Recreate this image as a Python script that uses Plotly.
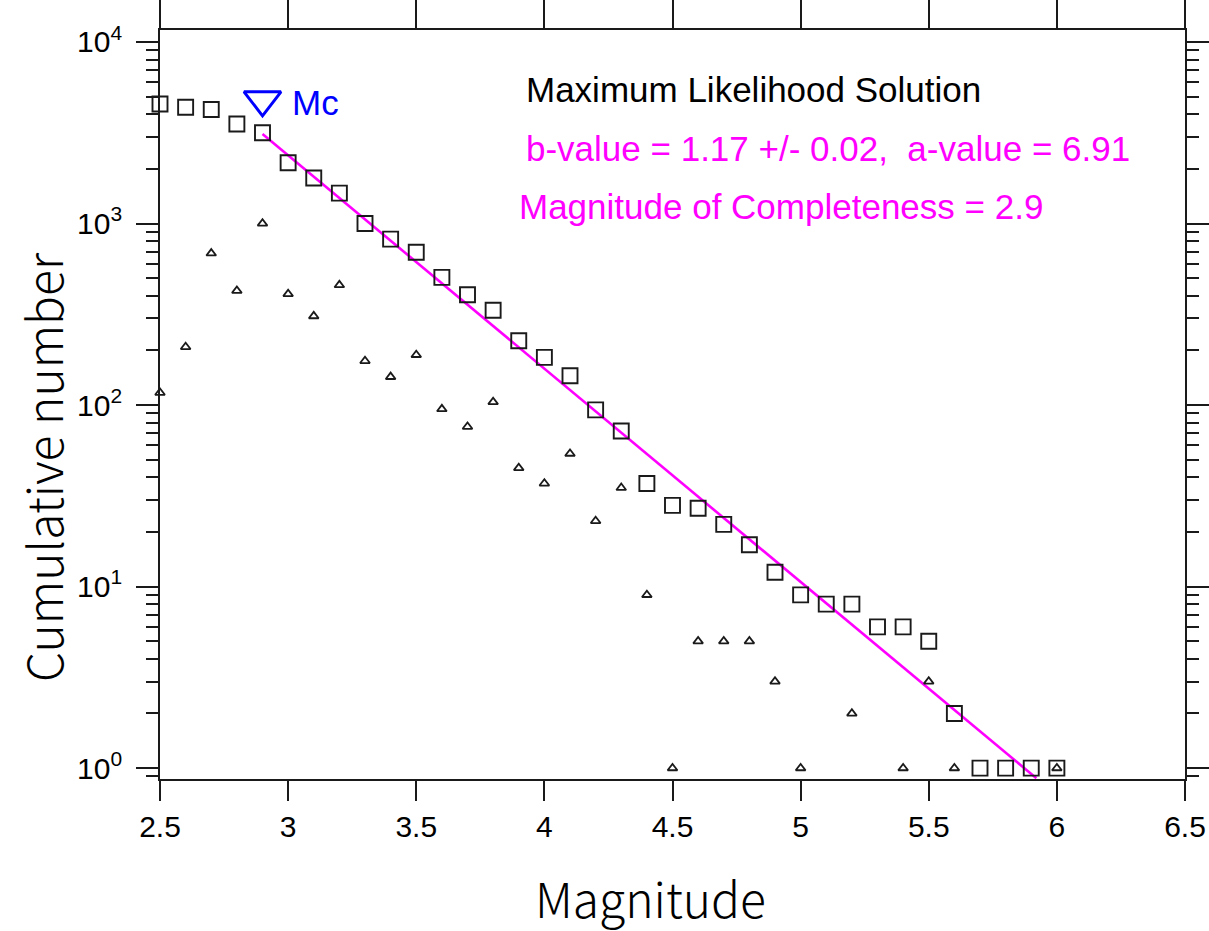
import plotly.graph_objects as go

# ---- data ----
magnitudes = [2.5, 2.6, 2.7, 2.8, 2.9, 3.0, 3.1, 3.2, 3.3, 3.4, 3.5, 3.6, 3.7, 3.8,
              3.9, 4.0, 4.1, 4.2, 4.3, 4.4, 4.5, 4.6, 4.7, 4.8, 4.9, 5.0, 5.1, 5.2,
              5.3, 5.4, 5.5, 5.6, 5.7, 5.8, 5.9, 6.0]
cumulative = [4550, 4370, 4250, 3530, 3160, 2160, 1780, 1470, 1000, 820, 695, 505, 405, 333,
              226, 183, 145, 94, 72, 37, 28, 27, 22, 17, 12, 9, 8, 8,
              6, 6, 5, 2, 1, 1, 1, 1]
noncumulative = [117, 209, 685, 426, 1000, 409, 309, 458, 175, 143, 189, 95, 76, 104,
                 45, 37, 54, 23, 35, 9, 1, 5, 5, 5, 3, 1, None, 2,
                 None, 1, 3, 1, None, None, None, 1]
fit_x = [2.9, 5.92]
fit_y = [3110, 0.88]
mc_x = [2.9]
mc_y = [4800]

x_ticks = [2.5, 3, 3.5, 4, 4.5, 5, 5.5, 6, 6.5]
x_ticktext = ["2.5", "3", "3.5", "4", "4.5", "5", "5.5", "6", "6.5"]
y_ticks = [1, 10, 100, 1000, 10000]
y_ticktext = ["10<sup>0</sup>", "10<sup>1</sup>", "10<sup>2</sup>", "10<sup>3</sup>", "10<sup>4</sup>"]
y_minor = [m * 10 ** e for e in range(-1, 4) for m in range(2, 10)] + [0.9]

title_lines = ["Maximum Likelihood Solution",
               "b-value = 1.17 +/- 0.02,\u00a0\u00a0a-value = 6.91",
               "Magnitude of Completeness = 2.9"]

AX = "#1a1a1a"
TXT_FONT = "Liberation Sans, Arial, sans-serif"
TITLE_FONT = "Noto Sans CJK JP, Noto Sans, sans-serif"

fig = go.Figure()

fig.add_trace(go.Scatter(x=fit_x, y=fit_y, mode="lines",
                         line=dict(color="#ff00ff", width=2.6), cliponaxis=False))
fig.add_trace(go.Scatter(x=magnitudes, y=cumulative, mode="markers",
                         marker=dict(symbol="square-open", size=15, color="#1a1a1a",
                                     line=dict(width=1.9, color="#1a1a1a")),
                         cliponaxis=False))
fig.add_trace(go.Scatter(x=magnitudes, y=noncumulative, mode="markers",
                         marker=dict(symbol="triangle-up-open", size=8.5, color="#1a1a1a",
                                     line=dict(width=1.8, color="#1a1a1a")),
                         cliponaxis=False))
fig.add_trace(go.Scatter(x=mc_x, y=mc_y, mode="markers",
                         marker=dict(symbol="triangle-down-open", size=32, color="#0000ff",
                                     line=dict(width=3, color="#0000ff")),
                         cliponaxis=False))
# invisible trace to realise the top axis
fig.add_trace(go.Scatter(x=[4.5], y=[10], xaxis="x2", mode="markers",
                         marker=dict(opacity=0), hoverinfo="skip"))

fig.update_layout(
    width=1209, height=931,
    margin=dict(l=160, r=24, t=30, b=152, autoexpand=False),
    plot_bgcolor="white", paper_bgcolor="white",
    showlegend=False,
    xaxis=dict(range=[2.5, 6.5], tickmode="array", tickvals=x_ticks, ticktext=x_ticktext,
               ticks="outside", ticklen=20, tickwidth=1.5, tickcolor=AX,
               showline=True, linecolor=AX, linewidth=1.8, mirror=False,
               showgrid=False, zeroline=False, automargin=False,
               tickfont=dict(family=TXT_FONT, size=30, color="black")),
    xaxis2=dict(range=[2.5, 6.5], overlaying="x", side="top", tickmode="array",
                tickvals=x_ticks, ticks="outside", ticklen=30, tickwidth=1.5, tickcolor=AX,
                showticklabels=False, showline=True, linecolor=AX, linewidth=1.8,
                showgrid=False, zeroline=False, automargin=False),
    yaxis=dict(type="log", range=[-0.06, 4.066], tickmode="array", tickvals=y_ticks,
               ticktext=y_ticktext, ticks="outside", ticklen=22, tickwidth=1.5, tickcolor=AX,
               showline=True, linecolor=AX, linewidth=1.8, mirror="ticks",
               showgrid=False, zeroline=False, ticklabelstandoff=8, automargin=False,
               minor=dict(tickmode="array", tickvals=y_minor, ticks="outside", ticklen=12,
                          tickwidth=1.5, tickcolor=AX, showgrid=False),
               tickfont=dict(family=TXT_FONT, size=30, color="black")),
)

ann_x = (524 - 160) / 1025
fig.add_annotation(text=title_lines[0], xref="paper", yref="paper", x=ann_x, y=(779 - 90) / 749,
                   xanchor="left", yanchor="middle", showarrow=False,
                   font=dict(family=TXT_FONT, size=35, color="black"))
fig.add_annotation(text=title_lines[1], xref="paper", yref="paper", x=ann_x, y=(779 - 148) / 749,
                   xanchor="left", yanchor="middle", showarrow=False,
                   font=dict(family=TXT_FONT, size=35, color="#ff00ff"))
fig.add_annotation(text=title_lines[2], xref="paper", yref="paper", x=(517 - 160) / 1025,
                   y=(779 - 207) / 749,
                   xanchor="left", yanchor="middle", showarrow=False,
                   font=dict(family=TXT_FONT, size=35, color="#ff00ff"))
fig.add_annotation(text="Mc", xref="paper", yref="paper", x=(290 - 160) / 1025, y=(779 - 103) / 749,
                   xanchor="left", yanchor="middle", showarrow=False,
                   font=dict(family=TXT_FONT, size=35, color="#0000ff"))
fig.add_annotation(text="Magnitude", xref="paper", yref="paper", x=(650 - 160) / 1025,
                   y=(779 - 897) / 749, xanchor="center", yanchor="middle", showarrow=False,
                   font=dict(family=TITLE_FONT, size=48, color="black", weight=300))
fig.add_annotation(text="Cumulative number", xref="paper", yref="paper", x=(42 - 160) / 1025,
                   y=(779 - 467) / 749, xanchor="center", yanchor="middle", showarrow=False,
                   textangle=-90,
                   font=dict(family=TITLE_FONT, size=48, color="black", weight=300))

fig.write_html("out.html")
